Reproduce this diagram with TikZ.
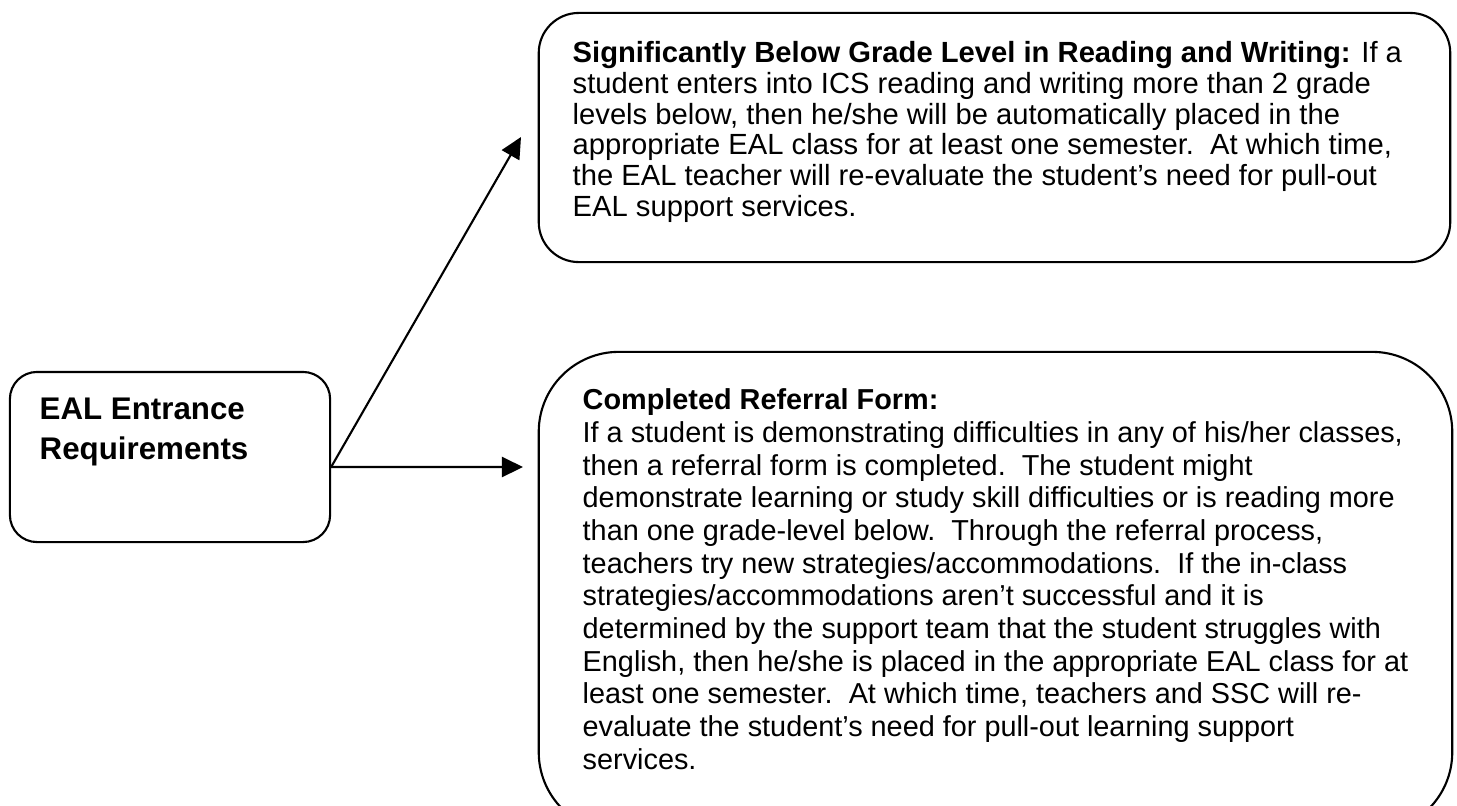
\documentclass[tikz,border=0pt]{standalone}
\usepackage{fontspec}
\setmainfont{Liberation Sans}
\usetikzlibrary{arrows.meta}

\tikzset{
    box/.style={draw, line width=0.6pt, rounded corners=#1, inner sep=0pt},
    boxtext/.style={anchor=north west, align=left, inner sep=0pt},
    link/.style={line width=0.6pt, -{Triangle[length=0.21cm, width=0.2cm]}}
}

\begin{document}
\begin{tikzpicture}[x=0.01cm, y=-0.01cm]
    \useasboundingbox (0,0) rectangle (1457,805);
    \clip (0,0) rectangle (1457,805);

        % Boxes
        \node[box=0.27cm, minimum width=3.2cm, minimum height=1.7cm] (entry) at (170,457) {};
        \node[box=0.4cm, minimum width=9.11cm, minimum height=2.49cm] (below) at (994.5,137.5) {};
        \node[box=0.8cm, minimum width=9.13cm, minimum height=4.8cm] (referral) at (995.5,592) {};

        % Texts
        \node[boxtext, font=\bfseries\fontsize{8.9pt}{11.4pt}\selectfont] (entrytext) at (39,397)
            {EAL Entrance\\Requirements};
        \node[boxtext, font=\fontsize{8.3pt}{8.71pt}\selectfont] (belowtext) at (572,41)
            {\textbf{Significantly Below Grade Level in Reading and Writing:} If a\\
            student enters into ICS reading and writing more than 2 grade\\
            levels below, then he/she will be automatically placed in the\\
            appropriate EAL class for at least one semester.\ \ At which time,\\
            the EAL teacher will re-evaluate the student’s need for pull-out\\
            EAL support services.};
        \node[boxtext, font=\fontsize{8.2pt}{9.3pt}\selectfont] (referraltext) at (582,388)
            {\textbf{Completed Referral Form:}\\
            If a student is demonstrating difficulties in any of his/her classes,\\
            then a referral form is completed.\ \ The student might\\
            demonstrate learning or study skill difficulties or is reading more\\
            than one grade-level below.\ \ Through the referral process,\\
            teachers try new strategies/accommodations.\ \ If the in-class\\
            strategies/accommodations aren’t successful and it is\\
            determined by the support team that the student struggles with\\
            English, then he/she is placed in the appropriate EAL class for at\\
            least one semester.\ \ At which time, teachers and SSC will re-\\
            evaluate the student’s need for pull-out learning support\\
            services.};

        % Arrows
        \coordinate (fork) at ([yshift=-0.1cm]entry.east);
        \coordinate (tipbelow) at (521,137);
        \coordinate (tipreferral) at (523,467);
        \draw[link] (fork) -- (tipbelow);
        \draw[link] (fork) -- (tipreferral);

\end{tikzpicture}
\end{document}
